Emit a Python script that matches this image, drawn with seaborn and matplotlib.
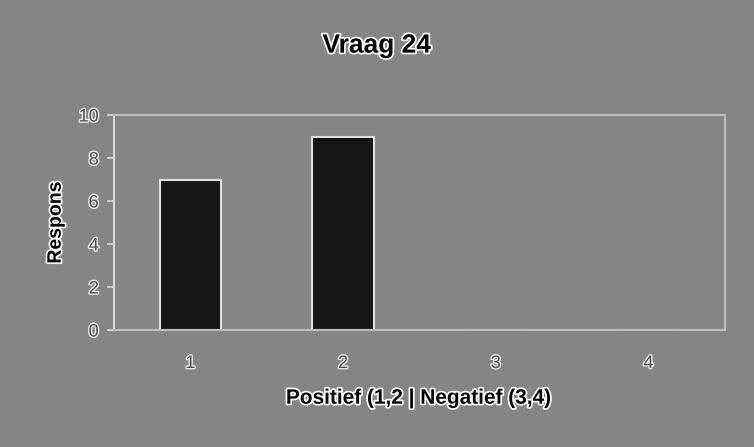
import matplotlib
matplotlib.use("Agg")
import matplotlib.pyplot as plt
import matplotlib.patheffects as pe
import seaborn as sns
import pandas as pd

# Survey answers for question 24
categories = ["1", "2", "3", "4"]
responses = [7, 9, 0, 0]
y_ticks = [0, 2, 4, 6, 8, 10]

title = "Vraag 24"
x_label = "Positief (1,2 | Negatief (3,4)"
y_label = "Respons"

df = pd.DataFrame({"categorie": categories, "respons": responses})

sns.set_theme(style="white")
plt.rcParams["font.family"] = ["Liberation Sans", "DejaVu Sans"]

bg = "#858585"
halo = [pe.withStroke(linewidth=2.5, foreground="white")]
thin_halo = [pe.withStroke(linewidth=2, foreground="#e8e8e8")]

fig = plt.figure(figsize=(7.54, 4.47), dpi=100, facecolor=bg)
ax = fig.add_axes([0.1512, 0.2617, 0.810, 0.481])
ax.set_facecolor(bg)

sns.barplot(data=df, x="categorie", y="respons", order=categories,
            color="#151515", width=0.4, edgecolor="#e0e0e0", linewidth=1.5,
            saturation=1, ax=ax)

ax.set_ylim(0, 10)
ax.set_yticks(y_ticks)
ax.set_xlim(-0.5, 3.5)

for side in ["top", "right", "bottom"]:
    ax.spines[side].set_color("#bdbdbd")
    ax.spines[side].set_linewidth(1.5)
ax.spines["left"].set_color("#d8d8d8")
ax.spines["left"].set_linewidth(1.5)

ax.tick_params(axis="y", length=5, color="#d8d8d8", width=1.2, left=True,
               labelsize=13, pad=6, labelcolor="#505050")
ax.tick_params(axis="x", length=0, labelsize=13, pad=18, labelcolor="#505050")
for lbl in ax.get_yticklabels() + ax.get_xticklabels():
    lbl.set_path_effects(thin_halo)

ax.set_xlabel(x_label, fontsize=15, fontweight="bold", labelpad=12,
              path_effects=halo, color="black")
ax.set_ylabel(y_label, fontsize=14, fontweight="bold", labelpad=10,
              path_effects=halo, color="black")

fig.text(0.4995, 0.898, title, ha="center", va="center", fontsize=19,
         fontweight="bold", color="black", path_effects=halo)

fig.savefig("out.png", dpi=100, facecolor=bg)
